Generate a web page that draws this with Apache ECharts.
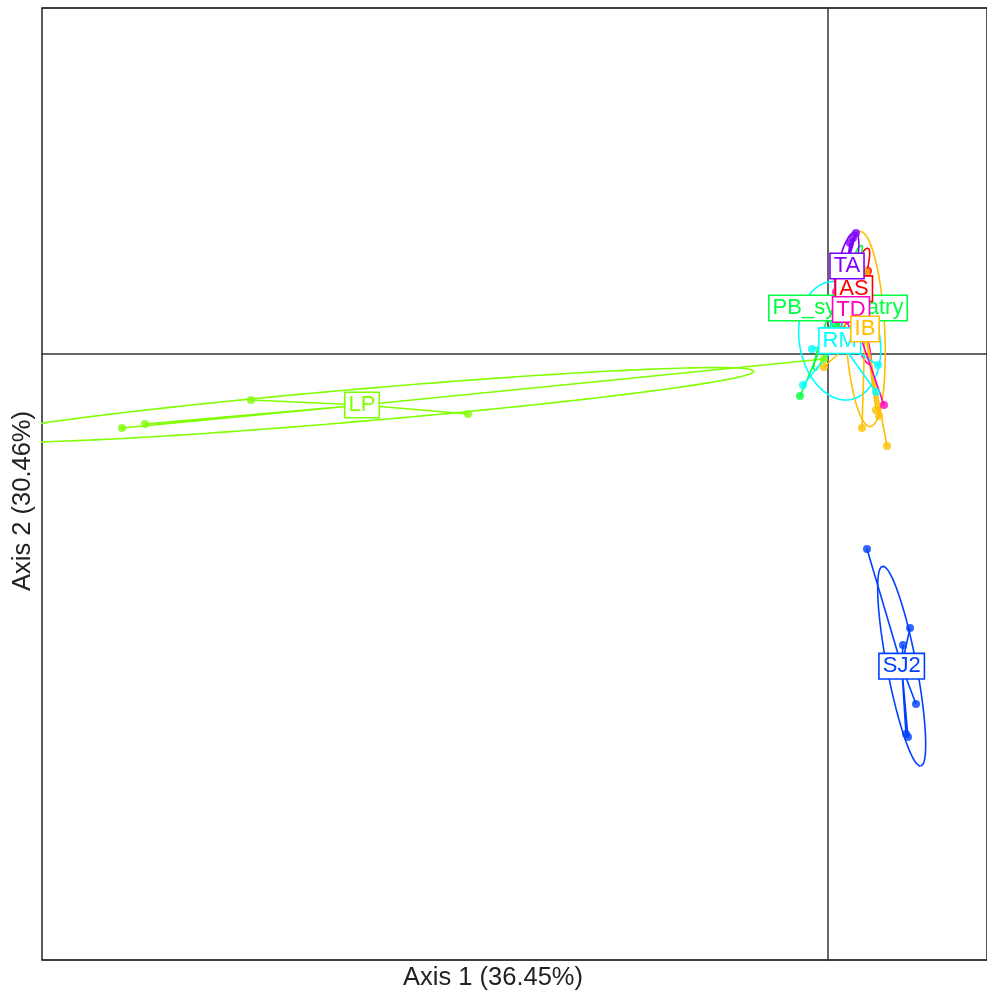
<!DOCTYPE html>
<html><head><meta charset="utf-8">
<script src="https://cdn.jsdelivr.net/npm/echarts@6/dist/echarts.min.js"></script>
<style>html,body{margin:0;padding:0;background:#fff}#c{width:987px;height:1001px}</style>
</head><body><div id="c"></div>
<script>
// ---- data (scores on axes 1 and 2) ----
const groupNames = ['AS', 'IB', 'LP', 'PB_sympatry', 'RM', 'SJ2', 'TA', 'TD'];
const groupColors = ['#FF0000', '#FFBF00', '#80FF00', '#00FF40', '#00FFFF', '#0040FF', '#8000FF', '#FF00BF'];
const labelOrder = ['LP', 'SJ2', 'PB_sympatry', 'RM', 'AS', 'TA', 'TD', 'IB'];
const ptsAS = [[0.40, 0.83], [0.32, 0.86], [0.34, 0.69], [0.30, 0.92], [0.07, 0.09], [0.22, 0.74], [0.17, 0.44]];
const ptsIB = [[0.48, -0.56], [0.51, -0.62], [0.34, -0.74], [0.59, -0.92], [-0.04, -0.13],
  [0.34, 0.86], [0.38, 0.82], [0.32, 0.76], [0.40, 0.74], [0.40, 0.70], [0.36, 0.66], [0.40, 0.62], [0.36, 0.64], [0.34, 0.67]];
const ptsLP = [[-7.06, -0.74], [-6.83, -0.70], [-5.77, -0.46], [-3.60, -0.60], [-0.04, -0.05]];
const ptsPB = [[-0.28, -0.42], [0.24, 0.89], [0.20, 0.84], [0.17, 0.74], [0.17, 0.54], [0.12, 0.34], [0.08, 0.29]];
const ptsRM = [[-0.25, -0.31], [0.50, -0.11], [0.48, -0.38], [0.20, 0.66], [0.10, 0.56], [-0.05, 0.46], [-0.16, 0.05]];
const ptsSJ2 = [[0.39, -1.95], [0.82, -2.74], [0.75, -2.91], [0.88, -3.50], [0.78, -3.80], [0.80, -3.83]];
const ptsTA = [[0.28, 1.21], [0.25, 1.16], [0.22, 1.11], [0.07, 0.79], [0.10, 0.69], [0.12, 0.64], [0.29, 0.82], [0.19, 0.62]];
const ptsTD = [[0.56, -0.51], [0.20, 0.57], [0.22, 0.64], [0.15, 0.52], [0.17, 0.49], [0.24, 0.54], [0.22, 0.69], [0.08, 0.62]];
const groupPoints = [ptsAS, ptsIB, ptsLP, ptsPB, ptsRM, ptsSJ2, ptsTA, ptsTD];
const xAxisTitle = 'Axis 1 (36.45%)';
const yAxisTitle = 'Axis 2 (30.46%)';
const xRange = [-7.86, 1.59];
const yRange = [-6.06, 3.46];
const cellipse = 1.5;

// ---- helpers ----
function stats(pts) {
  const n = pts.length;
  let mx = 0, my = 0;
  pts.forEach(p => { mx += p[0]; my += p[1]; });
  mx /= n; my /= n;
  let vx = 0, vy = 0, cxy = 0;
  pts.forEach(p => { const dx = p[0] - mx, dy = p[1] - my; vx += dx * dx; vy += dy * dy; cxy += dx * dy; });
  return { mx, my, vx: vx / n, vy: vy / n, cxy: cxy / n };
}
function ellipsePath(pts, k) {
  const s = stats(pts);
  const tr = s.vx + s.vy, det = s.vx * s.vy - s.cxy * s.cxy;
  const disc = Math.sqrt(Math.max(0, tr * tr / 4 - det));
  const l1 = tr / 2 + disc, l2 = Math.max(0, tr / 2 - disc);
  const th = 0.5 * Math.atan2(2 * s.cxy, s.vx - s.vy);
  const a = k * Math.sqrt(l1), b = k * Math.sqrt(l2);
  const out = [];
  const N = 200;
  for (let i = 0; i <= N; i++) {
    const t = 2 * Math.PI * i / N;
    const ex = a * Math.cos(t), ey = b * Math.sin(t);
    out.push([s.mx + ex * Math.cos(th) - ey * Math.sin(th), s.my + ex * Math.sin(th) + ey * Math.cos(th)]);
  }
  return out;
}
function starPath(pts) {
  const s = stats(pts);
  const out = [];
  pts.forEach(p => { out.push([s.mx, s.my]); out.push(p); });
  out.push([s.mx, s.my]);
  return out;
}

const FONT = 'Liberation Sans, Arial, Helvetica, sans-serif';
const LW = 1.6;
const series = [];
groupNames.forEach((g, i) => {
  series.push({ type: 'line', data: ellipsePath(groupPoints[i], cellipse), showSymbol: false, symbol: 'none',
    lineStyle: { color: groupColors[i], width: LW }, z: 2, silent: true, clip: true });
});
groupNames.forEach((g, i) => {
  series.push({ type: 'line', data: starPath(groupPoints[i]), showSymbol: false, symbol: 'none',
    lineStyle: { color: groupColors[i], width: LW }, z: 3, silent: true, clip: true });
});
groupNames.forEach((g, i) => {
  series.push({ type: 'scatter', data: groupPoints[i], symbol: 'circle', symbolSize: 8,
    itemStyle: { color: groupColors[i] }, z: 4, silent: true });
});
labelOrder.forEach((g, k) => {
  const i = groupNames.indexOf(g);
  const s = stats(groupPoints[i]);
  series.push({ type: 'scatter', data: [{ value: [s.mx, s.my], name: g }], symbolSize: 1,
    itemStyle: { color: 'rgba(0,0,0,0)' }, z: 10 + k, silent: true,
    label: { show: true, position: 'inside', formatter: g, color: groupColors[i], fontSize: 22, fontFamily: FONT, opacity: 1,
      backgroundColor: '#ffffff', borderColor: groupColors[i], borderWidth: 1.6, padding: [1, 3, 0, 3], lineHeight: 23 } });
});

const chart = echarts.init(document.getElementById('c'), null, { renderer: 'canvas' });
chart.setOption({
  animation: false,
  backgroundColor: '#fff',
  grid: { left: 42, top: 8, right: 0, bottom: 41, show: true, borderColor: '#000', borderWidth: 1.3, backgroundColor: 'transparent' },
  xAxis: { type: 'value', min: xRange[0], max: xRange[1],
    axisLine: { show: true, onZero: true, lineStyle: { color: '#333', width: 1.5 } },
    axisTick: { show: false }, axisLabel: { show: false }, splitLine: { show: false } },
  yAxis: { type: 'value', min: yRange[0], max: yRange[1],
    axisLine: { show: true, onZero: true, lineStyle: { color: '#333', width: 1.5 } },
    axisTick: { show: false }, axisLabel: { show: false }, splitLine: { show: false } },
  graphic: [
    { type: 'text', left: 403, top: 965, style: { text: xAxisTitle, fontSize: 25.5, fontFamily: FONT, fill: '#222' } },
    { type: 'text', x: 10, y: 591, rotation: Math.PI / 2, style: { text: yAxisTitle, fontSize: 25.5, fontFamily: FONT, fill: '#222' } }
  ],
  series: series
});
</script></body></html>
